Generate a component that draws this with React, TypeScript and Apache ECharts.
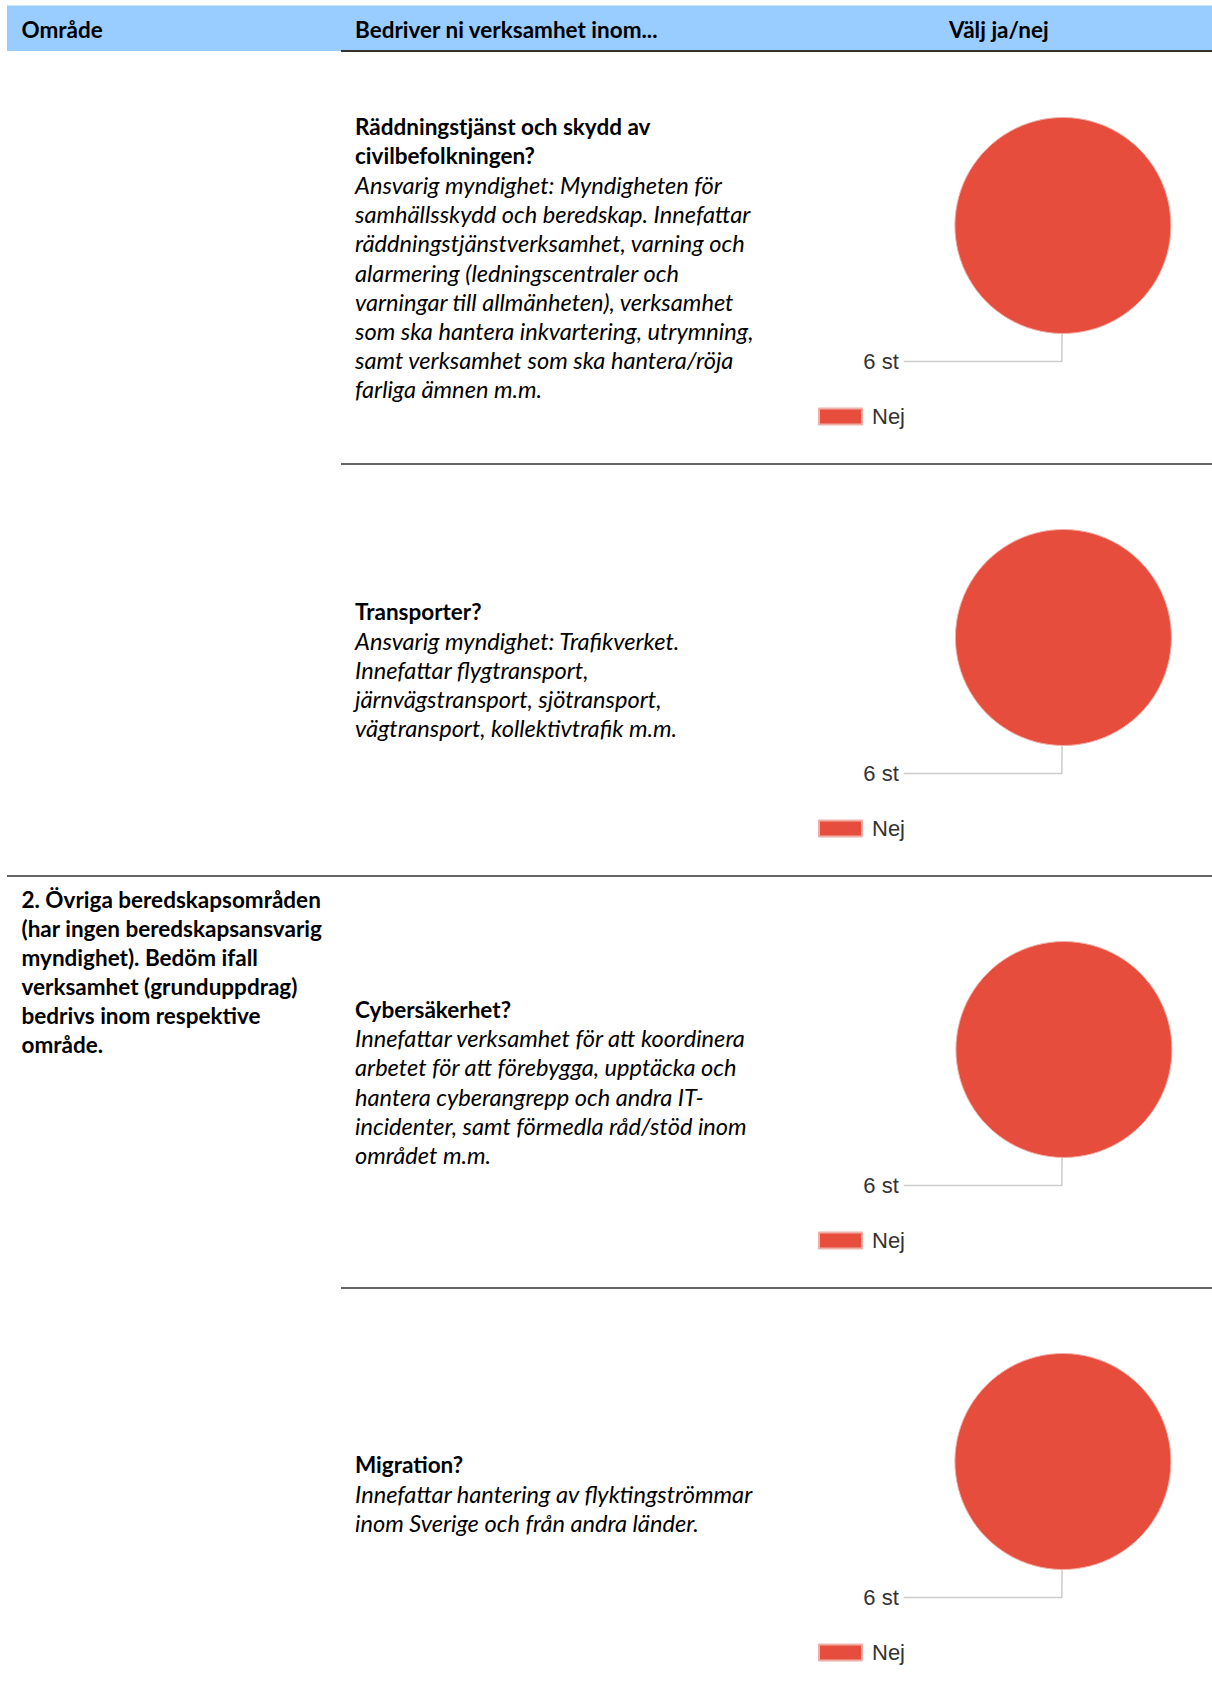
import React, { useEffect, useRef } from "react";
import * as echarts from "echarts";

const headerLabels = ["Område", "Bedriver ni verksamhet inom...", "Välj ja/nej"];

const sectionLines = [
  "2. Övriga beredskapsområden",
  "(har ingen beredskapsansvarig",
  "myndighet). Bedöm ifall",
  "verksamhet (grunduppdrag)",
  "bedrivs inom respektive",
  "område.",
];
const sectionRow = 2;

const questionTitles = [
  ["Räddningstjänst och skydd av", "civilbefolkningen?"],
  ["Transporter?"],
  ["Cybersäkerhet?"],
  ["Migration?"],
];

const questionDescriptions = [
  [
    "Ansvarig myndighet: Myndigheten för",
    "samhällsskydd och beredskap. Innefattar",
    "räddningstjänstverksamhet, varning och",
    "alarmering (ledningscentraler och",
    "varningar till allmänheten), verksamhet",
    "som ska hantera inkvartering, utrymning,",
    "samt verksamhet som ska hantera/röja",
    "farliga ämnen m.m.",
  ],
  [
    "Ansvarig myndighet: Trafikverket.",
    "Innefattar flygtransport,",
    "järnvägstransport, sjötransport,",
    "vägtransport, kollektivtrafik m.m.",
  ],
  [
    "Innefattar verksamhet för att koordinera",
    "arbetet för att förebygga, upptäcka och",
    "hantera cyberangrepp och andra IT-",
    "incidenter, samt förmedla råd/stöd inom",
    "området m.m.",
  ],
  [
    "Innefattar hantering av flyktingströmmar",
    "inom Sverige och från andra länder.",
  ],
];

const answerCategories = ["Nej"];
const nejCounts = [6, 6, 6, 6];
const countUnit = "st";

// layout
const W = 1212;
const H = 1693;
const HEADER_TOP = 5.5;
const HEADER_BOTTOM = 51;
const ROW_H = 412;
const COL1_X = 21.5;
const COL2_LINE_X = 341;
const TEXT_X = 355;
const HEAD3_X = 949;
const LINE_H = 29.15;
const PIE_CX = 1063;
const PIE_OFF = 174.5;
const PIE_R = 108;
const RED = "#e64d3d";
const TEXT_FONT = "Lato, Carlito, Calibri, sans-serif";
const CHART_FONT = "'Liberation Sans', Arial, sans-serif";
const BOLD_SIZE = 22.5;
const ITALIC_SIZE = 23.6;

const rowTop = (i: number) => HEADER_BOTTOM + ROW_H * i;
const pieCy = (i: number) => rowTop(i) + PIE_OFF;

export default function App() {
  const ref = useRef<HTMLDivElement>(null);

  useEffect(() => {
    if (!ref.current) return;
    const chart = echarts.init(ref.current, undefined, { renderer: "svg" });

    const graphics: any[] = [];
    // header band
    graphics.push({
      type: "rect",
      shape: { x: 7, y: HEADER_TOP, width: W - 7, height: HEADER_BOTTOM - HEADER_TOP },
      style: { fill: "#99ccff" },
      silent: true,
    });
    const headerX = [COL1_X, TEXT_X, HEAD3_X];
    headerLabels.forEach((t, i) => {
      graphics.push({
        type: "text",
        x: headerX[i],
        y: 29,
        style: {
          text: t,
          fill: "#000",
          fontFamily: TEXT_FONT,
          fontWeight: "bold",
          fontSize: BOLD_SIZE,
          verticalAlign: "middle",
        },
        silent: true,
      });
    });
    // header underline
    graphics.push({
      type: "line",
      shape: { x1: COL2_LINE_X, y1: HEADER_BOTTOM, x2: W, y2: HEADER_BOTTOM },
      style: { stroke: "#333", lineWidth: 2 },
      silent: true,
    });
    // row separators
    for (let i = 1; i < questionTitles.length; i++) {
      const y = rowTop(i) + 1;
      graphics.push({
        type: "line",
        shape: { x1: i === sectionRow ? 7 : COL2_LINE_X, y1: y, x2: W, y2: y },
        style: { stroke: "#333", lineWidth: 1.5 },
        silent: true,
      });
    }
    // section text
    sectionLines.forEach((t, k) => {
      graphics.push({
        type: "text",
        x: COL1_X,
        y: rowTop(sectionRow) + 24 + k * LINE_H,
        style: {
          text: t,
          fill: "#000",
          fontFamily: TEXT_FONT,
          fontWeight: "bold",
          fontSize: BOLD_SIZE,
          verticalAlign: "middle",
        },
        silent: true,
      });
    });
    // question texts
    questionTitles.forEach((titles, i) => {
      const desc = questionDescriptions[i];
      const n = titles.length + desc.length;
      const center = rowTop(i) + ROW_H / 2 + 1;
      const first = center - ((n - 1) / 2) * LINE_H;
      const lines = [
        ...titles.map((t) => ({ t, bold: true })),
        ...desc.map((t) => ({ t, bold: false })),
      ];
      lines.forEach((ln, k) => {
        graphics.push({
          type: "text",
          x: TEXT_X,
          y: first + k * LINE_H,
          style: {
            text: ln.t,
            fill: "#000",
            fontFamily: TEXT_FONT,
            fontWeight: ln.bold ? "bold" : "normal",
            fontStyle: ln.bold ? "normal" : "italic",
            fontSize: ln.bold ? BOLD_SIZE : ITALIC_SIZE,
            verticalAlign: "middle",
          },
          silent: true,
        });
      });
    });

    chart.setOption({
      animation: false,
      backgroundColor: "#ffffff",
      graphic: graphics,
      legend: nejCounts.map((_, i) => ({
        data: answerCategories,
        left: 818,
        top: pieCy(i) + 192 - 12,
        padding: 0,
        icon: "rect",
        itemWidth: 43,
        itemHeight: 16,
        itemGap: 10,
        selectedMode: false,
        textStyle: {
          fontFamily: CHART_FONT,
          fontSize: 22,
          color: "#333",
          padding: [0, 0, 0, 5],
        },
      })),
      series: nejCounts.map((v, i) => ({
        type: "pie",
        name: questionTitles[i].join(" "),
        center: [PIE_CX, pieCy(i)],
        radius: PIE_R,
        startAngle: 89.5,
        clockwise: true,
        silent: true,
        avoidLabelOverlap: false,
        data: answerCategories.map((name) => ({ name, value: v })),
        itemStyle: { color: RED, borderColor: "#f0b0a8", borderWidth: 1 },
        label: {
          show: true,
          position: "outside",
          formatter: "{c} " + countUnit,
          color: "#333",
          fontFamily: CHART_FONT,
          fontSize: 22,
        },
        labelLine: {
          show: true,
          length: 28,
          length2: 158,
          smooth: false,
          lineStyle: { color: "#cccccc", width: 1.5 },
        },
        emphasis: { disabled: true },
      })),
    });

    return () => chart.dispose();
  }, []);

  return (
    <div
      ref={ref}
      style={{ position: "absolute", left: 0, top: 0, width: W, height: H, background: "#fff" }}
    />
  );
}
